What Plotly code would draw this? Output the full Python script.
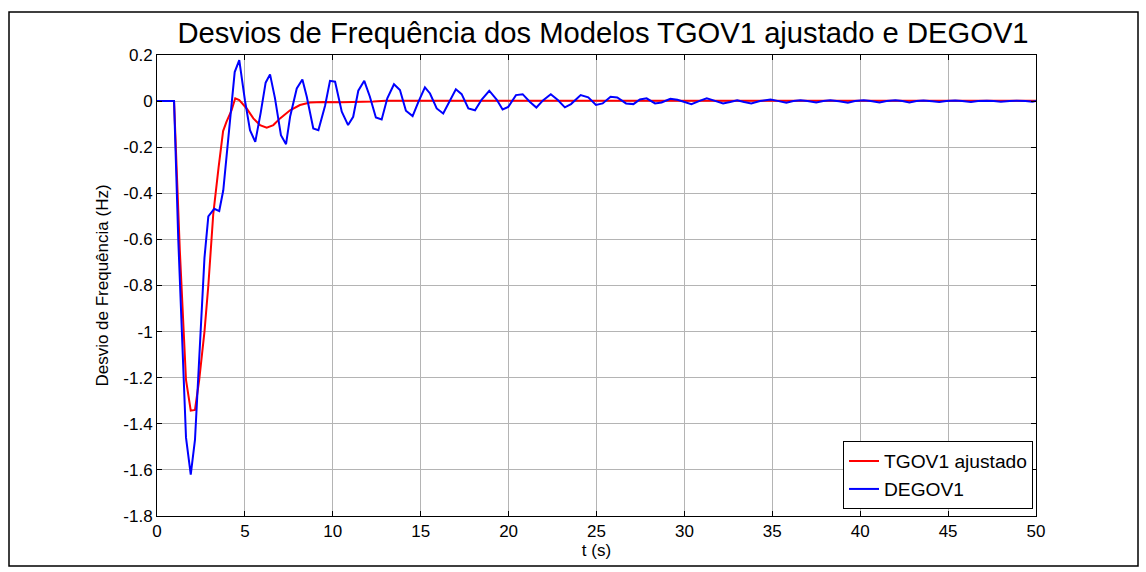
import plotly.graph_objects as go

# ---- data ----
t_tgov = [0, 0.97, 1.3, 1.65, 1.92, 2.16, 2.4, 2.7, 2.92, 3.2, 3.5, 3.76, 3.95, 4.24, 4.45, 4.68,
          5.1, 5.48, 5.86, 6.24, 6.62, 7.0, 7.57, 8.13, 8.7, 9.46, 10.5, 11.5, 12.3, 13.0, 20, 30, 40, 50]
v_tgov = [0, 0, -0.65, -1.21, -1.343, -1.34, -1.21, -1.0, -0.8, -0.49, -0.29, -0.13, -0.09, -0.04, 0.012, 0.004,
          -0.032, -0.075, -0.104, -0.115, -0.104, -0.075, -0.04, -0.017, -0.006, -0.004, -0.005, -0.005, -0.002, 0.002, 0.002, 0.001, 0.001, 0.001]

t_degov = [0, 0.97, 1.21, 1.65, 1.92, 2.16, 2.7, 2.92, 3.26, 3.54, 3.77, 4.42, 4.68,
           5.0, 5.29, 5.59, 5.9, 6.18, 6.43, 6.71, 7.05, 7.34, 7.57, 7.95, 8.27, 8.52,
           8.89, 9.18, 9.56, 9.84, 10.13, 10.51, 10.87, 11.16, 11.45, 11.79, 12.11, 12.45,
           12.78, 13.1, 13.48, 13.82, 14.16, 14.54, 14.87, 15.24, 15.53, 15.91, 16.28,
           16.63, 17.0, 17.33, 17.71, 18.09, 18.47, 18.9, 19.32, 19.66, 19.98, 20.42,
           20.8, 21.2, 21.58, 21.97, 22.4, 22.8, 23.2, 23.55, 24.1, 24.53, 24.97, 25.35,
           25.8, 26.18, 26.68, 27.1, 27.47, 27.85, 28.33, 28.7, 29.2, 29.6, 30.0, 30.4,
           30.9, 31.27, 31.7, 32.2, 32.6, 33.0, 33.4, 33.8, 34.3, 34.9, 35.3, 35.8,
           36.2, 36.6, 37.0, 37.5, 37.9, 38.3, 38.8, 39.3, 39.7, 40.2, 40.6, 41.1,
           41.5, 42.0, 42.4, 42.8, 43.2, 43.6, 44.1, 44.5, 44.9, 45.4, 45.8, 46.3,
           46.7, 47.2, 47.6, 48.0, 48.5, 48.9, 49.4, 49.8, 50.0]
v_degov = [0, 0, -0.60, -1.46, -1.62, -1.47, -0.68, -0.50, -0.467, -0.477, -0.387, 0.126, 0.178,
           0.004, -0.126, -0.177, -0.05, 0.08, 0.116, 0.013, -0.148, -0.187, -0.068, 0.055, 0.094, 0.019,
           -0.119, -0.126, -0.02, 0.088, 0.084, -0.046, -0.104, -0.068, 0.045, 0.088, 0.019, -0.071,
           -0.08, 0.012, 0.073, 0.048, -0.042, -0.065, -0.003, 0.06, 0.033, -0.032, -0.054,
           -0.003, 0.051, 0.03, -0.032, -0.04, 0.007, 0.045, 0.007, -0.036, -0.025, 0.026,
           0.03, -0.003, -0.028, 0.004, 0.03, 0.005, -0.027, -0.013, 0.026, 0.016, -0.017, -0.01,
           0.019, 0.016, -0.01, -0.013, 0.007, 0.012, -0.01, -0.006, 0.01, 0.006, -0.003, -0.013,
           0.002, 0.012, 0.002, -0.01, -0.004, 0.004, -0.004, -0.01, 0.0, 0.007, 0.001, -0.007,
           0.0, 0.004, 0.0, -0.006, 0.0, 0.004, -0.001, -0.007, 0.0, 0.004, 0.0, -0.006,
           0.0, 0.004, 0.0, -0.006, 0.0, 0.003, -0.001, -0.004, 0.0, 0.003, 0.0, -0.004,
           0.0, 0.002, 0.0, -0.003, 0.0, 0.002, 0.0, -0.003, 0.0]

x_ticks = [0, 5, 10, 15, 20, 25, 30, 35, 40, 45, 50]
x_ticktext = ["0", "5", "10", "15", "20", "25", "30", "35", "40", "45", "50"]
y_ticks = [0.2, 0, -0.2, -0.4, -0.6, -0.8, -1.0, -1.2, -1.4, -1.6, -1.8]
y_ticktext = ["0.2", "0", "-0.2", "-0.4", "-0.6", "-0.8", "-1", "-1.2", "-1.4", "-1.6", "-1.8"]

FONT = "Liberation Sans, Arial, sans-serif"

fig = go.Figure()
fig.add_trace(go.Scatter(x=t_tgov, y=v_tgov, mode="lines", name="TGOV1 ajustado",
                         line=dict(color="#ff0000", width=2)))
fig.add_trace(go.Scatter(x=t_degov, y=v_degov, mode="lines", name="DEGOV1",
                         line=dict(color="#0000ff", width=2)))

axis_common = dict(showgrid=True, gridcolor="#b4b4b4", gridwidth=1, zeroline=False,
                   showline=True, linecolor="black", linewidth=1, mirror="allticks",
                   ticks="inside", ticklen=5, tickcolor="black",
                   tickfont=dict(family=FONT, size=17, color="black"))

fig.update_layout(
    width=1146, height=572,
    margin=dict(l=157, r=110, t=55, b=56),
    paper_bgcolor="white", plot_bgcolor="white",
    font=dict(family=FONT, color="black"),
    title=dict(text="Desvios de Frequência dos Modelos TGOV1 ajustado e DEGOV1",
               x=(603 / 1146), xanchor="center", y=1 - 33 / 572, yanchor="middle",
               font=dict(family=FONT, size=29.2, color="black")),
    xaxis=dict(range=[0, 50], tickvals=x_ticks, ticktext=x_ticktext,
               title=dict(text="t (s)", font=dict(family=FONT, size=17), standoff=2),
               **axis_common),
    yaxis=dict(range=[-1.8, 0.2], tickvals=y_ticks, ticktext=y_ticktext,
               title=dict(text="Desvio de Frequência (Hz)", font=dict(family=FONT, size=17), standoff=10),
               **axis_common),
    legend=dict(x=0.9966, y=0.0152, xanchor="right", yanchor="bottom",
                bgcolor="white", bordercolor="black", borderwidth=1,
                font=dict(family=FONT, size=19.2, color="black"),
                tracegroupgap=0, itemwidth=30),
    showlegend=True,
)

# outer figure frame
pw, ph = 1146 - 157 - 110, 572 - 55 - 56
fig.add_shape(type="rect", xref="paper", yref="paper",
              x0=(9 - 157) / pw, x1=(1138 - 157) / pw,
              y0=(516 - 566) / ph, y1=(516 - 12) / ph,
              line=dict(color="black", width=1.5), fillcolor="rgba(0,0,0,0)", layer="below")

fig.write_html("out.html")
